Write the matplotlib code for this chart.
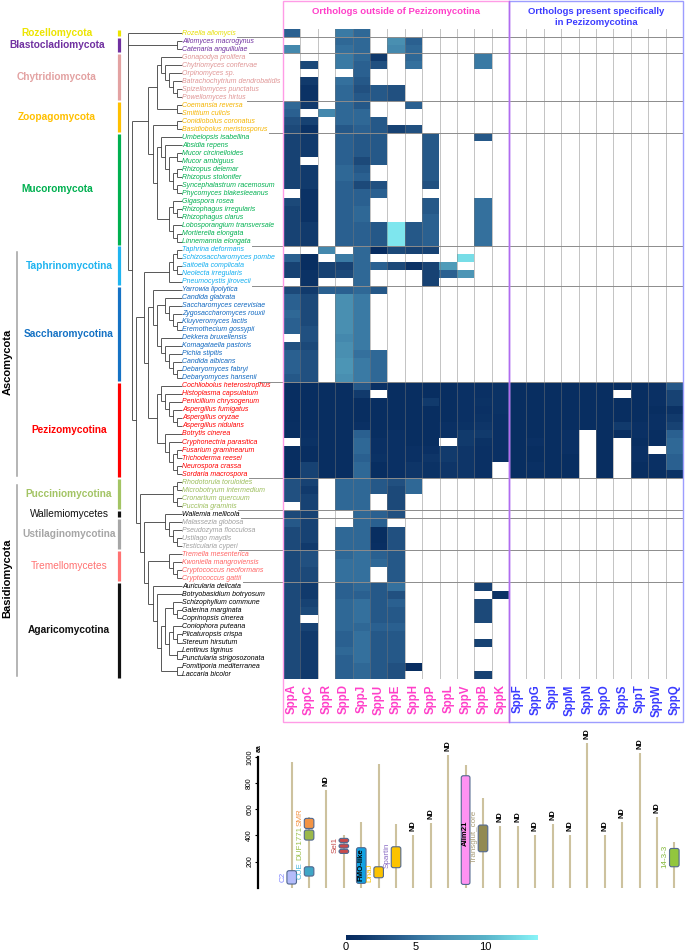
import numpy as np
import matplotlib
matplotlib.use("Agg")
import matplotlib.pyplot as plt
from matplotlib.colors import LinearSegmentedColormap, Normalize
from matplotlib.cm import ScalarMappable
from matplotlib.patches import Rectangle, FancyBboxPatch
from matplotlib.lines import Line2D

plt.rcParams['font.family'] = ['Liberation Sans', 'DejaVu Sans']

n = np.nan

# ---------------- data ----------------
species = [
    "Rozella allomycis",
    "Allomyces macrogynus", "Catenaria anguillulae",
    "Gonapodya prolifera", "Chytriomyces confervae", "Orpinomyces sp.", "Batrachochytrium dendrobatidis",
    "Spizellomyces punctatus", "Powellomyces hirtus",
    "Coemansia reversa", "Smittium culicis", "Conidiobolus coronatus", "Basidiobolus meristosporus",
    "Umbelopsis isabellina", "Absidia repens", "Mucor circinelloides", "Mucor ambiguus", "Rhizopus delemar",
    "Rhizopus stolonifer", "Syncephalastrum racemosum", "Phycomyces blakesleeanus", "Gigaspora rosea",
    "Rhizophagus irregularis", "Rhizophagus clarus", "Lobosporangium transversale", "Mortierella elongata",
    "Linnemannia elongata",
    "Taphrina deformans", "Schizosaccharomyces pombe", "Saitoella complicata", "Neolecta irregularis",
    "Pneumocystis jirovecii",
    "Yarrowia lipolytica", "Candida glabrata", "Saccharomyces cerevisiae", "Zygosaccharomyces rouxii",
    "Kluyveromyces lactis", "Eremothecium gossypii", "Dekkera bruxellensis", "Komagataella pastoris",
    "Pichia stipitis", "Candida albicans", "Debaryomyces fabryi", "Debaryomyces hansenii",
    "Cochliobolus heterostrophus", "Histoplasma capsulatum", "Penicillium chrysogenum", "Aspergillus fumigatus",
    "Aspergillus oryzae", "Aspergillus nidulans", "Botrytis cinerea", "Cryphonectria parasitica",
    "Fusarium graminearum", "Trichoderma reesei", "Neurospora crassa", "Sordaria macrospora",
    "Rhodotorula toruloides", "Microbotryum intermedium", "Cronartium quercuum", "Puccinia graminis",
    "Wallemia mellicola",
    "Malassezia globosa", "Pseudozyma flocculosa", "Ustilago maydis", "Testicularia cyperi",
    "Tremella mesenterica", "Kwoniella mangroviensis", "Cryptococcus neoformans", "Cryptococcus gattii",
    "Auricularia delicata", "Botryobasidium botryosum", "Schizophyllum commune", "Galerina marginata",
    "Coprinopsis cinerea", "Coniophora puteana", "Plicaturopsis crispa", "Stereum hirsutum",
    "Lentinus tigrinus", "Punctularia strigosozonata", "Fomitiporia mediterranea", "Laccaria bicolor",
]

group_names = ["Rozellomycota", "Blastocladiomycota", "Chytridiomycota", "Zoopagomycota", "Mucoromycota",
               "Taphrinomycotina", "Saccharomycotina", "Pezizomycotina", "Pucciniomycotina",
               "Wallemiomycetes", "Ustilaginomycotina", "Tremellomycetes", "Agaricomycotina"]
group_first = [0, 1, 3, 9, 13, 27, 32, 44, 56, 60, 61, 65, 69]
group_last = [0, 2, 8, 12, 26, 31, 43, 55, 59, 60, 64, 68, 80]
group_colors = ["#ece400", "#7030a0", "#e3a2a2", "#ffc000", "#00b050", "#1fb4f0", "#1572c4", "#ff0000",
                "#a3c464", "#111111", "#a6a6a6", "#ff7272", "#111111"]
species_colors = ["#e6de00", "#7030a0", "#e09696", "#f5b400", "#00b050", "#12aef0", "#1068c0", "#ff0000",
                  "#9cbe5c", "#000000", "#a0a0a0", "#ff6464", "#000000"]
group_bold = [True, True, True, True, True, True, True, True, True, False, True, False, True]

phyla_names = ["Ascomycota", "Basidiomycota"]
phyla_first = [27, 56]
phyla_last = [55, 80]

# phylogeny (leaf = row index)
chytrid = (3, (4, (5, (6, (7, 8)))))
kickx = (9, 10)
entomo = (11, 12)
mucoro = ((13, (14, ((15, 16), ((17, 18), (19, 20))))), ((21, (22, 23)), (24, (25, 26))))
taphrino = (((27, 28), (29, 30)), 31)
saccharo = (32, ((33, (34, (35, (36, 37)))), (38, (39, (40, (41, (42, 43)))))))
pezizo = ((44, (45, (46, (47, (48, 49))))), (50, (51, ((52, 53), (54, 55)))))
puccinio = ((56, 57), (58, 59))
ustilago = (61, (62, (63, 64)))
tremello = (65, (66, (67, 68)))
agarico = (69, (70, (((71, (72, 73)), ((74, (75, 76)), (77, 78))), (79, 80))))
tree = (0, (1, 2), (((chytrid, kickx), (entomo, mucoro)),
                    ((taphrino, (saccharo, pezizo)), (puccinio, ((60, ustilago), (tremello, agarico))))))

cols_outside = ["SppA", "SppC", "SppR", "SppD", "SppJ", "SppU", "SppE", "SppH", "SppP", "SppL", "SppV",
                "SppB", "SppK"]
cols_pezizo = ["SppF", "SppG", "SppI", "SppM", "SppN", "SppO", "SppS", "SppT", "SppW", "SppQ"]

outside_values = [
    [4.0, n, n, 5.5, 4.5, n, n, n, n, n, n, n, n],
    [n, n, n, 4.5, 4.5, n, 7.0, 4.0, n, n, n, n, n],
    [6.5, n, n, 5.0, 4.5, n, 6.5, 4.5, n, n, n, n, n],
    [n, n, n, 5.5, 4.5, 1.5, n, 4.5, n, n, n, 5.5, n],
    [n, 2.5, n, 5.5, 4.0, 3.0, n, 5.0, n, n, n, 5.5, n],
    [n, n, n, n, 4.0, n, n, n, n, n, n, n, n],
    [n, 1.5, n, 5.0, 3.5, n, n, n, n, n, n, n, n],
    [n, 1.0, n, 4.5, 3.0, 3.5, 3.0, n, n, n, n, n, n],
    [n, 1.0, n, 4.5, 3.5, 3.5, 3.0, n, n, n, n, n, n],
    [4.5, 1.5, n, 4.5, 3.5, n, n, 4.0, n, n, n, n, n],
    [4.0, n, 6.5, 4.5, 4.5, n, n, n, n, n, n, n, n],
    [3.0, 2.0, n, 4.5, 4.5, 3.5, n, n, n, n, n, n, n],
    [2.5, 1.0, n, 3.5, 4.0, 3.5, 2.0, 3.0, n, n, n, n, n],
    [2.0, 1.5, n, 4.0, 3.5, 3.5, n, n, 3.5, n, n, 3.5, n],
    [2.0, 1.5, n, 4.0, 3.5, 3.5, n, n, 3.5, n, n, n, n],
    [2.0, 1.5, n, 4.0, 3.5, 3.5, n, n, 3.5, n, n, n, n],
    [2.0, n, n, 4.0, 2.5, 3.5, n, n, 3.5, n, n, n, n],
    [2.0, 1.5, n, 4.5, 3.5, n, n, n, 3.5, n, n, n, n],
    [2.0, 1.5, n, 4.5, 4.0, n, n, n, 3.5, n, n, n, n],
    [2.0, 1.5, n, 4.0, 2.5, 3.0, n, n, 3.0, n, n, n, n],
    [n, 1.0, n, 4.0, 4.0, 4.0, n, n, n, n, n, n, n],
    [2.5, 1.0, n, 4.0, 4.0, n, n, n, 3.5, n, n, 5.0, n],
    [2.0, 1.0, n, 4.0, 4.5, n, n, n, 3.5, n, n, 5.0, n],
    [2.0, 1.0, n, 4.0, 4.5, n, n, n, 4.0, n, n, 5.0, n],
    [2.0, 1.5, n, 4.0, 4.0, 3.5, 13.0, 3.5, 4.0, n, n, 5.0, n],
    [2.0, 1.5, n, 4.0, 4.0, 3.5, 13.0, 3.5, 4.0, n, n, 5.0, n],
    [2.0, 1.5, n, 4.0, 4.0, 3.5, 13.0, 3.5, 4.0, n, n, 5.0, n],
    [n, n, 6.5, n, 4.5, 0.3, 2.5, 2.0, 2.0, n, n, n, n],
    [4.0, 0.5, n, 5.5, 4.5, n, n, n, n, n, 12.5, n, n],
    [2.0, 0.5, 2.0, 2.0, 4.5, 4.0, 2.5, 1.0, 2.0, 8.0, n, n, n],
    [2.0, 1.0, 2.0, 2.5, 4.5, n, n, n, 2.0, 4.0, 7.5, n, n],
    [n, 1.0, n, n, 4.5, n, n, n, 2.0, n, n, n, n],
    [2.5, 1.5, 4.0, 4.0, 4.5, 3.5, n, n, n, n, n, n, n],
    [4.0, 2.5, n, 7.0, 5.5, n, n, n, n, n, n, n, n],
    [4.0, 2.5, n, 7.0, 5.5, n, n, n, n, n, n, n, n],
    [4.5, 2.5, n, 7.0, 5.5, n, n, n, n, n, n, n, n],
    [4.0, 2.5, n, 7.0, 5.5, n, n, n, n, n, n, n, n],
    [4.0, 3.0, n, 7.0, 5.5, n, n, n, n, n, n, n, n],
    [n, 3.0, n, 6.5, 5.5, n, n, n, n, n, n, n, n],
    [3.0, 2.5, n, 7.0, 5.5, n, n, n, n, n, n, n, n],
    [4.0, 3.0, n, 7.0, 5.0, 4.5, n, n, n, n, n, n, n],
    [4.0, 3.0, n, 7.5, 5.5, 4.5, n, n, n, n, n, n, n],
    [4.0, 3.0, n, 7.5, 5.5, 4.5, n, n, n, n, n, n, n],
    [3.5, 3.0, n, 7.0, 5.5, 4.5, n, n, n, n, n, n, n],
    [0.5, 0.5, 0.5, 0.5, 3.5, 0.8, 0.5, 0.8, 0.5, 0.5, 0.8, 0.8, 1.0],
    [0.5, 0.5, 0.5, 0.5, 1.5, n, 0.5, 0.5, 0.5, 0.5, 0.8, 0.8, 1.0],
    [0.5, 0.5, 0.5, 0.5, 0.5, 0.5, 0.5, 0.5, 1.5, 0.5, 0.8, 1.0, 1.0],
    [0.5, 0.5, 0.5, 0.5, 0.5, 0.5, 0.5, 0.5, 0.5, 0.5, 0.8, 0.8, 1.0],
    [0.5, 0.5, 0.5, 0.5, 0.5, 0.5, 0.5, 0.5, 0.5, 0.5, 0.8, 1.0, 0.8],
    [0.6, 0.5, 0.5, 0.5, 0.8, 0.5, 0.5, 0.5, 0.5, 0.8, 1.0, 1.2, 0.8],
    [0.5, 0.8, 0.5, 0.5, 4.0, 0.5, 0.8, 0.5, 0.5, 0.8, 1.5, 1.5, 0.8],
    [n, 1.0, 0.5, 0.5, 4.5, 0.8, 0.8, 0.5, 0.5, n, 1.5, 1.0, 0.8],
    [0.5, 0.5, 0.5, 0.5, 4.5, 0.8, 0.8, 0.8, 0.8, 1.5, 1.2, 0.8, 0.8],
    [0.5, 0.5, 0.5, 0.5, 4.0, 1.0, 0.8, 0.8, 1.2, 1.5, 1.2, 0.8, 0.8],
    [0.5, 2.0, 0.5, 0.5, 4.5, 0.5, 0.8, 1.2, 1.0, 1.2, 1.2, 0.8, n],
    [0.5, 2.0, 0.5, 0.5, 4.5, 0.5, 0.8, 1.2, 1.0, 1.2, 1.2, 0.8, n],
    [3.0, 2.0, n, 4.5, 4.5, 3.5, 3.0, 4.5, n, n, n, n, n],
    [3.0, 1.5, n, 4.5, 4.5, 3.5, 2.5, 4.5, n, n, n, n, n],
    [3.0, 2.0, n, 4.5, 4.5, n, 2.5, n, n, n, n, n, n],
    [n, 2.0, n, 4.5, 4.5, n, 2.5, n, n, n, n, n, n],
    [2.5, 2.0, n, n, 4.5, 4.0, 3.0, n, n, n, n, n, n],
    [3.5, 2.0, n, n, 4.5, 4.0, n, n, n, n, n, n, n],
    [2.5, 2.0, n, 4.5, 4.5, 0.5, 3.0, n, n, n, n, n, n],
    [2.5, 2.0, n, 4.5, 4.5, 0.5, 3.0, n, n, n, n, n, n],
    [2.5, 1.5, n, 4.5, 4.5, 0.7, 3.0, n, n, n, n, n, n],
    [2.5, 3.0, n, 4.5, 5.0, 4.0, 3.5, n, n, n, n, n, n],
    [2.5, 3.0, n, 5.0, 5.0, 4.5, 3.5, n, n, n, n, n, n],
    [2.5, 2.5, n, 5.0, 5.0, n, 3.5, n, n, n, n, n, n],
    [2.5, 2.5, n, 5.0, 5.0, n, 3.5, n, n, n, n, n, n],
    [2.5, 1.5, n, 4.0, 4.5, 3.5, 5.0, n, n, n, n, 2.0, n],
    [2.5, 1.5, n, 4.0, 4.0, 3.5, 3.0, n, n, n, n, n, 1.0],
    [2.5, 2.0, n, 4.5, 5.0, 3.5, 4.0, n, n, n, n, 2.5, n],
    [2.5, 2.5, n, 4.5, 5.0, 3.5, 3.5, n, n, n, n, 2.5, n],
    [2.5, n, n, 4.5, 5.0, 3.5, 3.5, n, n, n, n, 2.5, n],
    [2.5, 2.0, n, 4.5, 4.5, 4.0, 4.0, n, n, n, n, n, n],
    [2.5, 1.5, n, 4.0, 5.0, 3.5, 3.5, n, n, n, n, n, n],
    [2.5, 1.5, n, 4.0, 5.0, 3.5, 3.5, n, n, n, n, 2.0, n],
    [2.5, 1.5, n, 4.5, 5.0, 3.5, 3.5, n, n, n, n, n, n],
    [2.5, 1.5, n, 4.0, 5.0, 3.5, 3.5, n, n, n, n, n, n],
    [2.5, 1.5, n, 4.0, 4.5, 3.5, 3.0, 0.5, n, n, n, n, n],
    [2.5, 1.5, n, 4.0, 4.5, 3.5, 3.0, n, n, n, n, 2.0, n],
]

# Pezizomycotina-specific orthologs (rows 44..55 only)
pezizo_rows_first = 44
pezizo_values = [
    [0.5, 0.5, 0.5, 0.5, 0.5, 0.5, 0.5, 0.5, 0.8, 3.5],
    [0.5, 0.5, 0.5, 0.5, 0.5, 0.5, n, 0.5, 0.8, 2.0],
    [0.5, 0.5, 0.5, 0.5, 0.5, 0.5, 0.5, 0.5, 0.8, 2.0],
    [0.5, 0.5, 0.5, 0.5, 0.5, 0.5, 0.5, 0.5, 0.5, 1.0],
    [0.5, 0.5, 0.5, 0.5, 0.5, 0.5, 0.5, 0.5, 0.8, 1.5],
    [0.5, 0.5, 0.5, 0.5, 0.5, 0.5, 1.5, 0.8, 0.8, 2.0],
    [0.5, 0.5, 0.5, 0.8, n, 0.5, 0.5, 0.8, 0.5, 4.0],
    [0.5, 0.8, 0.5, 0.8, n, 0.5, n, 0.5, 0.5, 4.5],
    [0.5, 0.5, 0.5, 0.8, n, 0.5, n, 0.8, n, 4.5],
    [0.5, 0.5, 0.5, 0.5, n, 0.5, n, 0.8, 0.8, 4.0],
    [0.5, 0.8, 0.5, 0.5, n, 0.5, n, 0.5, 0.8, 4.0],
    [0.5, 0.5, 0.5, 0.5, n, 0.5, n, 0.5, 0.5, 1.0],
]

# protein lengths (aa) in column order, and domain architecture
protein_length = [958, 540, 750, 400, 500, 945, 487, 402, 497, 1014, 938, 683, 471,
                  471, 402, 487, 402, 1106, 402, 505, 1027, 543, 347]
nd_columns = [2, 7, 8, 9, 12, 13, 14, 15, 16, 17, 18, 19, 20, 21]
domain_col = [0, 1, 1, 1, 3, 3, 3, 4, 5, 6, 10, 11, 22]
domain_start = [28, 89, 364, 453, 262, 303, 346, 33, 76, 153, 25, 275, 160]
domain_end = [130, 160, 441, 530, 293, 334, 377, 306, 160, 313, 856, 479, 300]
domain_color = ["#b4bcfa", "#3fa6c6", "#9bb84a", "#f39444", "#c94a4a", "#c94a4a", "#c94a4a",
                "#12a2e2", "#fbc300", "#fbc300", "#ff92f2", "#928a52", "#92c63e"]
dlabel_col = [0, 1, 1, 1, 3, 4, 5, 6, 10, 11, 22]
dlabel_text = ["C2", "CUE", "DUF1771", "SMR", "Sel1", "FMO-like", "DnaJ", "Spartin", "Alim21",
               "Transglut_core", "14-3-3"]
dlabel_aa = [84, 127, 341, 540, 326, 178, 115, 244, 415, 390, 237]
dlabel_color = ["#7f84ff", "#44b4d8", "#9cc04a", "#f39444", "#c44848", "#000000", "#f5c000",
                "#8a6cc4", "#000000", "#a89c78", "#84b83a"]
dlabel_inside = [False, False, False, False, False, True, False, False, True, False, False]

# ---------------- figure ----------------
W, H = 685, 952
fig = plt.figure(figsize=(W / 100, H / 100), dpi=100)

cmap = LinearSegmentedColormap.from_list(
    "ortho", [(0.0, "#062a5e"), (1 / 13.8, "#0c3366"), (2.5 / 13.8, "#1d4a7a"), (4 / 13.8, "#2a6090"),
              (5.5 / 13.8, "#3a7aa4"), (7 / 13.8, "#4a90b2"), (10 / 13.8, "#58b2c8"), (1.0, "#88f4f8")])
norm = Normalize(0, 13.8)

nrow = len(species)
ncol = len(cols_outside) + len(cols_pezizo)
M = np.full((nrow, ncol), np.nan)
M[:, :len(cols_outside)] = np.array(outside_values, dtype=float)
M[pezizo_rows_first:pezizo_rows_first + len(pezizo_values), len(cols_outside):] = np.array(pezizo_values)

HX0, HX1, HY0, HY1 = 283, 683, 29, 678.6
hb, hh = 1 - HY1 / H, (HY1 - HY0) / H
col_w = (HX1 - HX0) / ncol

ax_h = fig.add_axes([HX0 / W, hb, (HX1 - HX0) / W, hh])
ax_h.imshow(np.ma.masked_invalid(M), cmap=cmap, norm=norm, aspect="auto", interpolation="nearest",
            extent=(-0.5, ncol - 0.5, nrow - 0.5, -0.5))
ax_h.set_xlim(-0.5, ncol - 0.5)
ax_h.set_ylim(nrow - 0.5, -0.5)
ax_h.axis("off")
for b in range(1, ncol):
    if b == len(cols_outside):
        continue
    ax_h.axvline(b - 0.5, color="#7a7a7a", alpha=0.45, lw=0.7)

# left panel: tree, labels
ax_l = fig.add_axes([0, hb, HX0 / W, hh])
ax_l.set_xlim(0, HX0)
ax_l.set_ylim(nrow - 0.5, -0.5)
ax_l.axis("off")

LEAF_X, ROOT_X = 181.5, 127.7


def height(node):
    if isinstance(node, int):
        return 0
    return 1 + max(height(c) for c in node)


step = (LEAF_X - ROOT_X) / height(tree)
tree_kw = dict(color="#3c3c3c", lw=0.6, solid_capstyle="butt")


def draw(node):
    if isinstance(node, int):
        return LEAF_X, float(node)
    h = height(node)
    x = LEAF_X - h * step
    pts = [draw(c) for c in node]
    ys = [p[1] for p in pts]
    ax_l.plot([x, x], [min(ys), max(ys)], **tree_kw)
    for cx, cy in pts:
        ax_l.plot([x, cx], [cy, cy], **tree_kw)
    return x, (min(ys) + max(ys)) / 2


draw(tree)

row_color = [None] * nrow
for g in range(len(group_names)):
    for r in range(group_first[g], group_last[g] + 1):
        row_color[r] = species_colors[g]

sp_texts = []
for r, name in enumerate(species):
    t = ax_l.text(182.5, r, name, fontsize=5.0, style="italic", color=row_color[r],
                  ha="left", va="center")
    sp_texts.append(t)

for g, name in enumerate(group_names):
    f, l = group_first[g], group_last[g]
    ax_l.plot([118.5, 118.5], [f - 0.5 + 0.12, l + 0.5 - 0.12], color=group_colors[g], lw=2.3,
              solid_capstyle="butt")
    xc = 69 if f >= 27 else 57
    ax_l.text(xc, (f + l) / 2, name, fontsize=7.3, fontweight="bold" if group_bold[g] else "normal",
              color=group_colors[g], ha="center", va="center")

for p, name in enumerate(phyla_names):
    f, l = phyla_first[p], phyla_last[p]
    ax_l.plot([16.5, 16.5], [f - 0.5 + 0.8, l + 0.5 - 0.3], color="#a0a0a0", lw=1.1)
    ax_l.text(7.5, (f + l) / 2, name, rotation=90, fontsize=8, fontweight="bold", color="black",
              ha="center", va="center")

# separators between groups
fig.canvas.draw()
renderer = fig.canvas.get_renderer()
inv = ax_l.transData.inverted()
for g in range(len(group_names) - 1):
    r = group_last[g]
    bb = sp_texts[r].get_window_extent(renderer)
    x_end = inv.transform((bb.x1, bb.y0))[0] + 1
    ax_l.plot([x_end, HX0], [r + 0.5, r + 0.5], color="#8c8c8c", lw=0.7)
    ax_h.axhline(r + 0.5, color="#8c8c8c", lw=0.7)

# frames, headers and column labels
PINK, BLUE = "#ff3fc9", "#3b3bff"
XMID = HX0 + len(cols_outside) * col_w
fig.add_artist(Rectangle((HX0 / W, 1 - 722 / H), (XMID - HX0) / W, 721 / H, transform=fig.transFigure,
                         fill=False, ec="#ff9ce6", lw=1.0))
fig.add_artist(Rectangle((XMID / W, 1 - 722 / H), (HX1 - XMID) / W, 721 / H, transform=fig.transFigure,
                         fill=False, ec="#9d9dff", lw=1.0))
fig.add_artist(Line2D([XMID / W, XMID / W], [1 - 722 / H, 1 - 1 / H], transform=fig.transFigure,
                      color="#b06cf0", lw=1.0))
fig.text((HX0 + XMID) / 2 / W, 1 - 12 / H, "Orthologs outside of Pezizomycotina", color=PINK,
         fontsize=6.8, fontweight="bold", ha="center", va="center")
fig.text((XMID + HX1) / 2 / W, 1 - 17 / H, "Orthologs present specifically\nin Pezizomycotina", color=BLUE,
         fontsize=6.8, fontweight="bold", ha="center", va="center", linespacing=1.15)
for i, c in enumerate(cols_outside + cols_pezizo):
    fig.text((HX0 + (i + 0.5) * col_w) / W, 1 - 684.5 / H, c, rotation=90, fontsize=8.3, fontweight="bold",
             color=PINK if i < len(cols_outside) else BLUE, ha="center", va="top")

# domain architecture panel
DY0, DY1000 = 887.7, 756.9
ax_d = fig.add_axes([258 / W, 1 - DY0 / H, (HX1 - 258) / W, (DY0 - DY1000) / H])
ax_d.set_xlim(-0.5 - (HX0 - 258) / col_w, ncol - 0.5)
ax_d.set_ylim(0, 1000)
for s in ["top", "right", "bottom"]:
    ax_d.spines[s].set_visible(False)
ax_d.spines["left"].set_linewidth(1.6)
ax_d.spines["left"].set_bounds(0, 1000)
ax_d.set_xticks([])
ax_d.set_yticks([200, 400, 600, 800, 1000])
ax_d.tick_params(axis="y", labelsize=5, length=2.5, width=0.8, pad=1, labelrotation=90)
for lab in ax_d.get_yticklabels():
    lab.set_va("center")
x_axis = -0.5 - (HX0 - 258) / col_w
ax_d.text(x_axis + 0.08, 1035, "aa", rotation=90, fontsize=5, fontweight="bold", ha="center", va="bottom",
          clip_on=False)

for i, L in enumerate(protein_length):
    ax_d.plot([i, i], [0, L], color="#cdc29e", lw=1.5, solid_capstyle="butt", clip_on=False, zorder=1)
for i in nd_columns:
    ax_d.text(i, protein_length[i] + 30, "ND", rotation=90, fontsize=5.3, fontweight="bold",
              ha="center", va="bottom", clip_on=False)

aspect = (1000 / (DY0 - DY1000)) * col_w
bw = 0.55
for c, s, e, fc in zip(domain_col, domain_start, domain_end, domain_color):
    w = bw if fc != "#ff92f2" else 0.5
    ax_d.add_patch(FancyBboxPatch((c - w / 2, s), w, e - s, boxstyle="round,pad=0,rounding_size=0.12",
                                  mutation_aspect=aspect, fc=fc, ec="#52688f", lw=0.8, clip_on=False, zorder=3))
for c, txt, aa, col, inside in zip(dlabel_col, dlabel_text, dlabel_aa, dlabel_color, dlabel_inside):
    if inside:
        ax_d.text(c, aa, txt, rotation=90, fontsize=5.6, fontweight="bold", color=col, ha="center",
                  va="center", zorder=4, clip_on=False)
    else:
        ax_d.text(c - 0.52, aa, txt, rotation=90, fontsize=5.8, color=col, ha="center", va="center",
                  zorder=4, clip_on=False)

# colour bar
cax = fig.add_axes([346 / W, 1 - 940 / H, 192 / W, 5 / H])
cb = fig.colorbar(ScalarMappable(norm=norm, cmap=cmap), cax=cax, orientation="horizontal", ticks=[0, 5, 10])
cb.outline.set_visible(False)
cax.tick_params(length=0, labelsize=8, pad=1.5)

fig.savefig("out.png", dpi=100)
